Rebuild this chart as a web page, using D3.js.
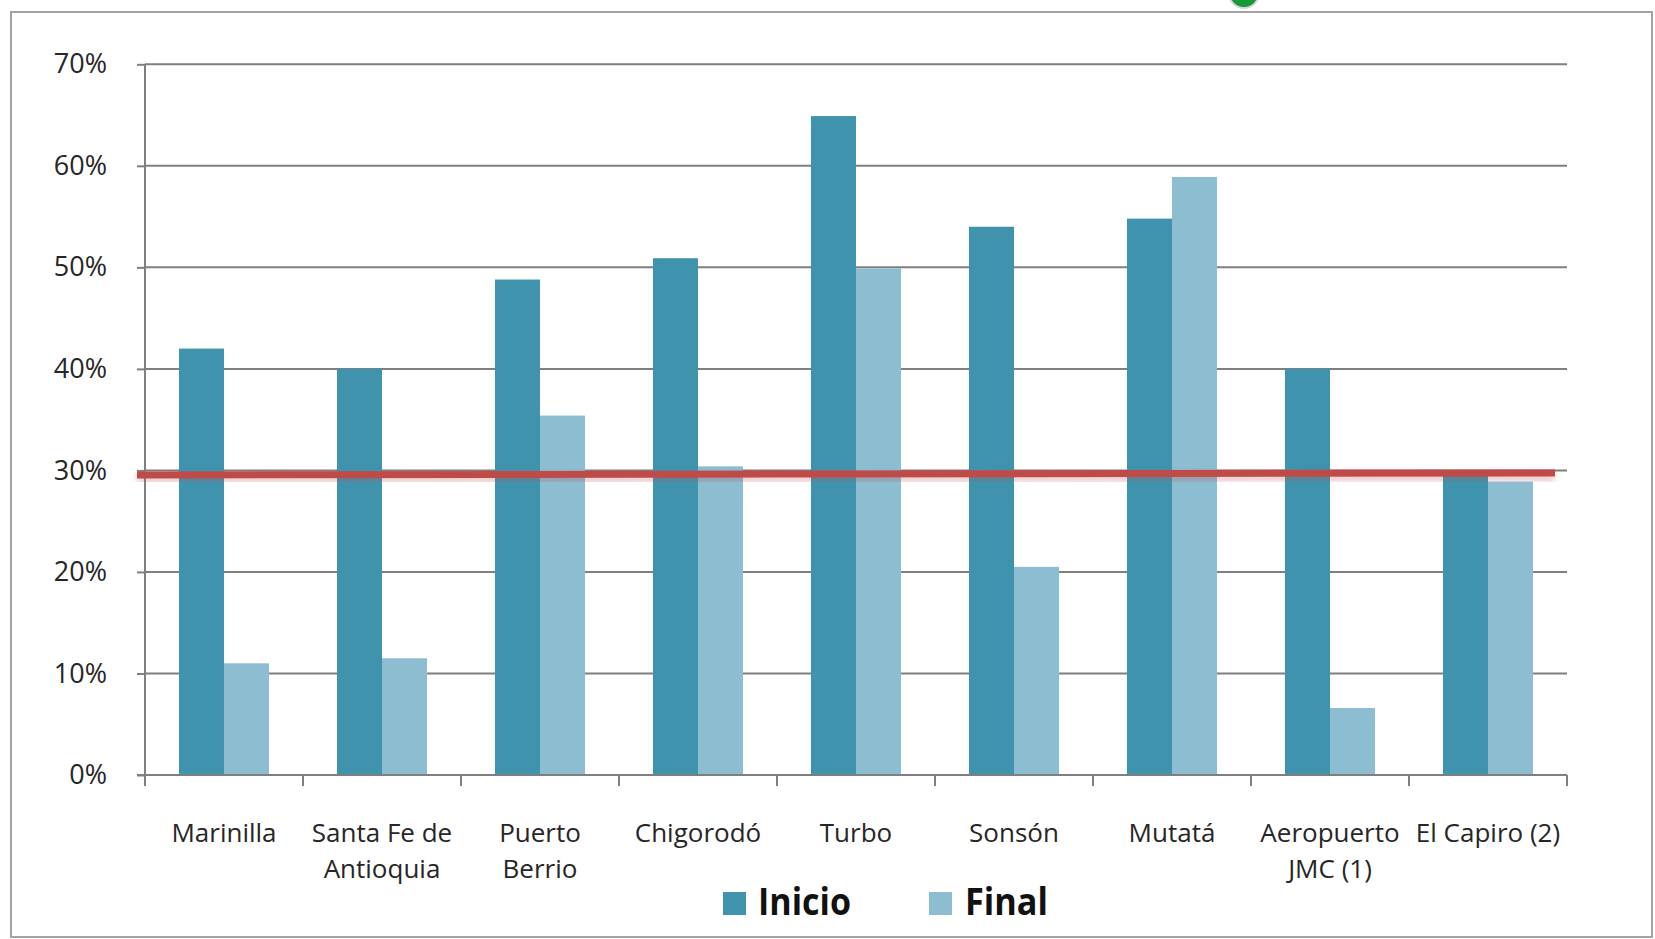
<!DOCTYPE html>
<html>
<head>
<meta charset="utf-8">
<script src="https://cdn.jsdelivr.net/npm/d3@7"></script>
<style>
  html, body { margin: 0; padding: 0; background: #ffffff; }
  svg { display: block; }
</style>
</head>
<body>
<svg id="chart" width="1655" height="939"></svg>
<script>
// Categories (each entry holds the label lines drawn under the axis)
const categories = ["Marinilla", "Santa Fe de Antioquia", "Puerto Berrio", "Chigorodó", "Turbo",
                    "Sonsón", "Mutatá", "Aeropuerto JMC (1)", "El Capiro (2)"];
const categoryLines = [["Marinilla"], ["Santa Fe de", "Antioquia"], ["Puerto", "Berrio"], ["Chigorodó"],
                       ["Turbo"], ["Sonsón"], ["Mutatá"], ["Aeropuerto", "JMC (1)"], ["El Capiro (2)"]];

// Series values, in percent
const seriesNames = ["Inicio", "Final"];
const inicio = [42.0, 40.0, 48.8, 50.9, 64.9, 54.0, 54.8, 40.0, 29.5];
const final  = [11.0, 11.5, 35.4, 30.4, 49.9, 20.5, 58.9, 6.6, 28.9];

// Reference line (percent at its left and right ends)
const referenceLine = [29.55, 29.75];

// Y axis ticks
const yTicks = [0, 10, 20, 30, 40, 50, 60, 70];
const yTickLabels = ["0%", "10%", "20%", "30%", "40%", "50%", "60%", "70%"];

const colors = { Inicio: "#3f93ad", Final: "#8cbdd1" };
const gridColor = "#7f7f7f";
const font = "'Open Sans', 'DejaVu Sans', sans-serif";

const svg = d3.select("#chart");

// Outer frame
svg.append("rect")
  .attr("x", 11).attr("y", 12).attr("width", 1641).attr("height", 925)
  .attr("fill", "#ffffff").attr("stroke", "#a3a3a3").attr("stroke-width", 2);

// Small green badge peeking over the top edge
svg.append("circle")
  .attr("cx", 1244).attr("cy", -7).attr("r", 15)
  .attr("fill", "#17993a").attr("stroke", "#d5d5d5").attr("stroke-width", 2);

const plot = { left: 145, right: 1567, top: 64.3, bottom: 775 };

const x0 = d3.scaleBand()
  .domain(categories)
  .range([plot.left, plot.right])
  .paddingInner(0.43)
  .paddingOuter(0.215);

const x1 = d3.scaleBand()
  .domain(seriesNames)
  .range([0, x0.bandwidth()]);

const y = d3.scaleLinear()
  .domain([0, 70])
  .range([plot.bottom, plot.top]);

// Horizontal gridlines
svg.append("g")
  .selectAll("line")
  .data(yTicks.filter(t => t > 0))
  .join("line")
  .attr("x1", plot.left).attr("x2", plot.right)
  .attr("y1", d => y(d)).attr("y2", d => y(d))
  .attr("stroke", gridColor).attr("stroke-width", 2);

// Y axis
const yAxis = svg.append("g")
  .attr("transform", `translate(${plot.left},0)`)
  .call(d3.axisLeft(y).tickValues(yTicks).tickSize(8).tickPadding(30)
    .tickFormat((d, i) => yTickLabels[i]));
yAxis.select(".domain").attr("stroke", gridColor).attr("stroke-width", 2)
  .attr("d", `M0,${plot.top}V${plot.bottom}`);
yAxis.selectAll(".tick line").attr("stroke", gridColor).attr("stroke-width", 2);
yAxis.selectAll(".tick text")
  .attr("font-family", font).attr("font-size", 27).attr("fill", "#262626");

// Bars
const groups = svg.append("g")
  .selectAll("g")
  .data(categories.map((c, i) => ({ category: c, values: [
    { series: "Inicio", value: inicio[i] },
    { series: "Final", value: final[i] } ] })))
  .join("g")
  .attr("transform", d => `translate(${x0(d.category)},0)`);

groups.selectAll("rect")
  .data(d => d.values)
  .join("rect")
  .attr("x", d => x1(d.series))
  .attr("width", x1.bandwidth())
  .attr("y", d => y(d.value))
  .attr("height", d => y(0) - y(d.value))
  .attr("fill", d => colors[d.series]);

// X axis baseline with category separators
const xAxis = svg.append("g");
xAxis.append("line")
  .attr("x1", plot.left - 8).attr("x2", plot.right)
  .attr("y1", y(0)).attr("y2", y(0))
  .attr("stroke", gridColor).attr("stroke-width", 2);
const step = x0.step();
xAxis.selectAll(".sep")
  .data(d3.range(categories.length + 1))
  .join("line")
  .attr("class", "sep")
  .attr("x1", i => plot.left + i * step).attr("x2", i => plot.left + i * step)
  .attr("y1", y(0)).attr("y2", y(0) + 11)
  .attr("stroke", gridColor).attr("stroke-width", 2);

// Category labels
const labels = svg.append("g")
  .selectAll("text")
  .data(categories.map((c, i) => ({ category: c, lines: categoryLines[i] })))
  .join("text")
  .attr("x", d => x0(d.category) + x0.bandwidth() / 2)
  .attr("y", 842)
  .attr("text-anchor", "middle")
  .attr("font-family", font).attr("font-size", 26).attr("fill", "#262626");
labels.selectAll("tspan")
  .data(d => d.lines.map(line => ({ line, x: x0(d.category) + x0.bandwidth() / 2 })))
  .join("tspan")
  .attr("x", d => d.x)
  .attr("dy", (d, i) => i === 0 ? 0 : 36)
  .text(d => d.line);

// Reference line with a soft shadow
const defs = svg.append("defs");
const shadow = defs.append("filter").attr("id", "lineShadow")
  .attr("x", "-5%").attr("y", "-300%").attr("width", "110%").attr("height", "700%");
shadow.append("feDropShadow")
  .attr("dx", 0).attr("dy", 4).attr("stdDeviation", 3)
  .attr("flood-color", "#c0504d").attr("flood-opacity", 0.35);

svg.append("line")
  .attr("x1", plot.left - 8).attr("x2", plot.right - 12)
  .attr("y1", y(referenceLine[0])).attr("y2", y(referenceLine[1]))
  .attr("stroke", "#bf4b48").attr("stroke-width", 7)
  .attr("filter", "url(#lineShadow)");

// Legend
const legendItems = [
  { name: "Inicio", swatchX: 723, textX: 758, width: 93 },
  { name: "Final", swatchX: 929, textX: 965, width: 83 }
];
const legend = svg.append("g");
legend.selectAll("rect")
  .data(legendItems)
  .join("rect")
  .attr("x", d => d.swatchX).attr("y", 892)
  .attr("width", 23).attr("height", 23)
  .attr("fill", d => colors[d.name]);
legend.selectAll("text")
  .data(legendItems)
  .join("text")
  .attr("x", d => d.textX).attr("y", 915)
  .attr("font-family", font).attr("font-size", 38).attr("font-weight", "bold")
  .attr("fill", "#111111")
  .attr("textLength", d => d.width).attr("lengthAdjust", "spacingAndGlyphs")
  .text(d => d.name);
</script>
</body>
</html>
